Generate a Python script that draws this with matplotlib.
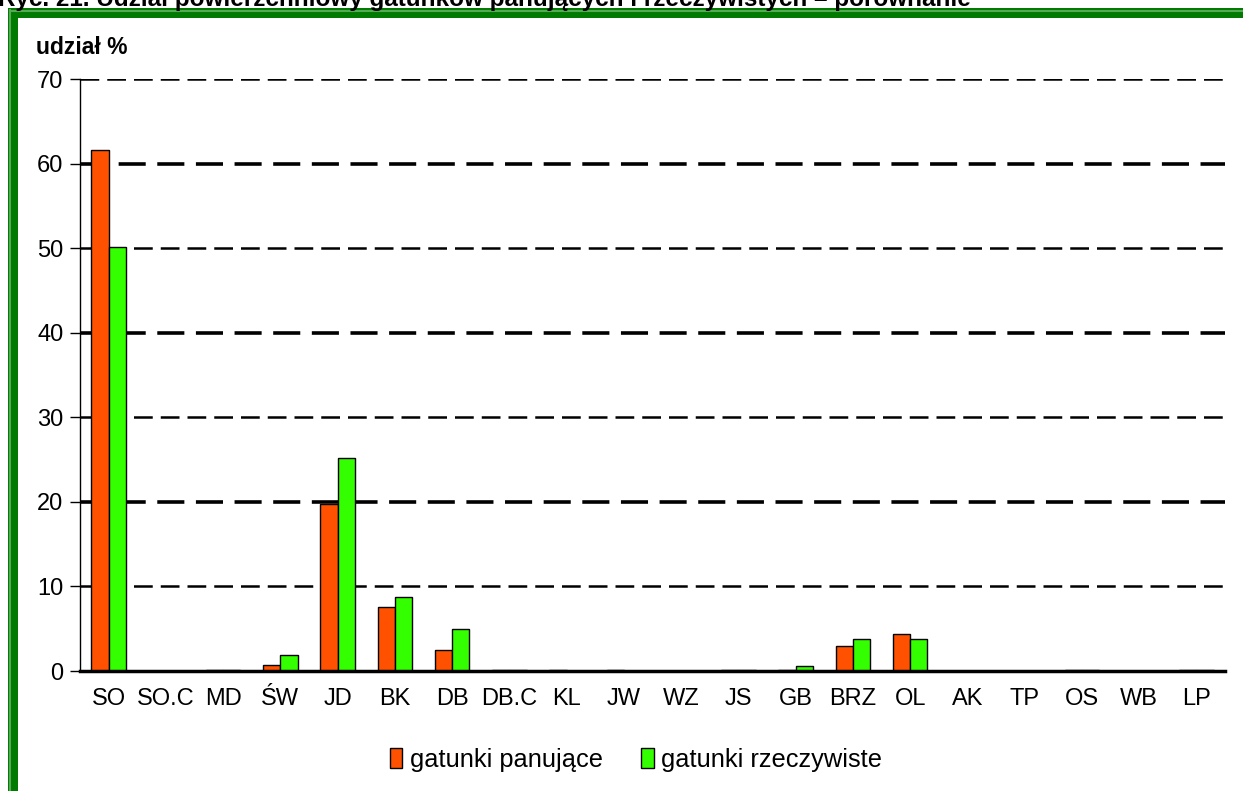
import matplotlib
matplotlib.use("Agg")
import matplotlib.pyplot as plt
import numpy as np
from matplotlib.patches import Rectangle, Patch
from matplotlib.lines import Line2D

plt.rcParams['font.family'] = ['Liberation Sans', 'DejaVu Sans']
NARROW = ['Liberation Sans Narrow', 'Liberation Sans', 'DejaVu Sans']

# Dane
gatunki = ['SO', 'SO.C', 'MD', 'ŚW', 'JD', 'BK', 'DB', 'DB.C', 'KL', 'JW',
           'WZ', 'JS', 'GB', 'BRZ', 'OL', 'AK', 'TP', 'OS', 'WB', 'LP']
panujace = [61.6, 0.0, 0.1, 0.7, 19.8, 7.6, 2.5, 0.1, 0.1, 0.1,
            0.0, 0.1, 0.1, 3.0, 4.4, 0.0, 0.0, 0.1, 0.0, 0.1]
rzeczywiste = [50.1, 0.0, 0.1, 1.9, 25.2, 8.7, 5.0, 0.1, 0.0, 0.0,
               0.0, 0.1, 0.6, 3.8, 3.8, 0.0, 0.0, 0.1, 0.0, 0.1]
y_ticks = [0, 10, 20, 30, 40, 50, 60, 70]

W, H = 1243, 791
fig = plt.figure(figsize=(W / 100, H / 100), dpi=100)
fig.patch.set_facecolor('white')

# ramka (zielona)
fig.add_artist(Rectangle((8 / W, 0), 10 / W, 1 - 8 / H, transform=fig.transFigure,
                         facecolor='#007a00', edgecolor='none'))
fig.add_artist(Rectangle((8 / W, 1 - 18 / H), 1, 10 / H, transform=fig.transFigure,
                         facecolor='#007a00', edgecolor='none'))
fig.add_artist(Line2D([10 / W, 10 / W], [0, 1 - 10 / H], transform=fig.transFigure,
                      color='#55aa55', lw=1.5))
fig.add_artist(Line2D([10 / W, 1], [1 - 11 / H, 1 - 11 / H], transform=fig.transFigure,
                      color='#55aa55', lw=1.5))

# tytuł (ucięty u góry, jak w oryginale)
fig.text(-2 / W, 1 - 6 / H, 'Ryc. 21. Udział powierzchniowy gatunków panujących i rzeczywistych – porównanie',
         fontsize=17.5, fontweight='bold', va='baseline', ha='left')

ax = fig.add_axes([80 / W, (H - 671) / H, (1225 - 80) / W, (671 - 79) / H])
x = np.arange(len(gatunki))
bw = 0.3
ax.bar(x - bw / 2, panujace, bw, color='#ff5100', edgecolor='black', linewidth=1,
       label='gatunki panujące', zorder=3)
ax.bar(x + bw / 2, rzeczywiste, bw, color='#33ff00', edgecolor='black', linewidth=1,
       label='gatunki rzeczywiste', zorder=3)

for v in y_ticks[1:]:
    ax.axhline(v, color='black', lw=2.6 if v % 20 == 0 else 1.8,
               dashes=(7.5, 3.2), zorder=1)

ax.set_xlim(-0.5, len(gatunki) - 0.5)
ax.set_ylim(0, 70)
ax.set_yticks(y_ticks)
ax.set_xticks(x)
ax.set_xticklabels(gatunki)
for lab in ax.get_xticklabels() + ax.get_yticklabels():
    lab.set_family(NARROW)
    lab.set_fontsize(17)
ax.tick_params(axis='x', length=0, pad=12)
ax.tick_params(axis='y', length=7, width=1, pad=5)
for s in ['top', 'right']:
    ax.spines[s].set_visible(False)
ax.spines['left'].set_linewidth(1)
ax.spines['bottom'].set_linewidth(2.5)
ax.spines['bottom'].set_zorder(4)

fig.text(36 / W, 1 - 48 / H, 'udział %', fontsize=16.5, fontweight='bold', va='center', ha='left')

handles = [Patch(facecolor='#ff5100', edgecolor='black'),
           Patch(facecolor='#33ff00', edgecolor='black')]
fig.legend(handles, ['gatunki panujące', 'gatunki rzeczywiste'], loc='center',
           bbox_to_anchor=(636 / W, 1 - 760 / H), ncol=2, frameon=False, fontsize=18.3,
           handlelength=0.5, handleheight=0.8, handletextpad=0.3, columnspacing=1.5)

fig.savefig('out.png', dpi=100)
